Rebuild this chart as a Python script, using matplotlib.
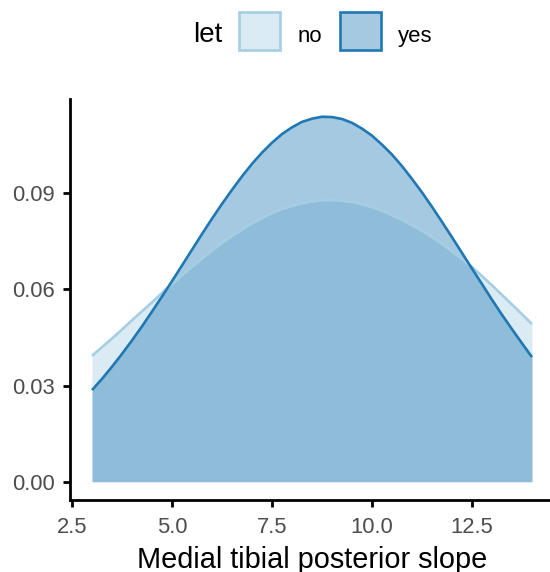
import matplotlib

matplotlib.use("Agg")
import matplotlib.pyplot as plt
from matplotlib.patches import Rectangle

# values (density of medial tibial posterior slope)
slope = [3.00, 3.25, 3.50, 3.75, 4.00, 4.25, 4.50, 4.75, 5.00, 5.25, 5.50, 5.75,
         6.00, 6.25, 6.50, 6.75, 7.00, 7.25, 7.50, 7.75, 8.00, 8.25, 8.50, 8.75,
         9.00, 9.25, 9.50, 9.75, 10.00, 10.25, 10.50, 10.75, 11.00, 11.25, 11.50,
         11.75, 12.00, 12.25, 12.50, 12.75, 13.00, 13.25, 13.50, 13.75, 14.00]
density_no = [0.0393, 0.0420, 0.0447, 0.0475, 0.0504, 0.0532, 0.0560, 0.0589,
              0.0617, 0.0644, 0.0671, 0.0697, 0.0721, 0.0745, 0.0767, 0.0787,
              0.0806, 0.0823, 0.0838, 0.0851, 0.0861, 0.0869, 0.0875, 0.0878,
              0.0879, 0.0877, 0.0873, 0.0866, 0.0857, 0.0846, 0.0832, 0.0817,
              0.0801, 0.0783, 0.0763, 0.0742, 0.0719, 0.0695, 0.0670, 0.0642,
              0.0613, 0.0583, 0.0553, 0.0523, 0.0492]
density_yes = [0.0286, 0.0321, 0.0359, 0.0399, 0.0441, 0.0485, 0.0531, 0.0578,
               0.0626, 0.0675, 0.0724, 0.0773, 0.0821, 0.0867, 0.0911, 0.0953,
               0.0992, 0.1027, 0.1058, 0.1085, 0.1106, 0.1123, 0.1133, 0.1139,
               0.1138, 0.1132, 0.1120, 0.1102, 0.1080, 0.1052, 0.1021, 0.0985,
               0.0945, 0.0903, 0.0858, 0.0811, 0.0763, 0.0714, 0.0665, 0.0617,
               0.0568, 0.0521, 0.0476, 0.0432, 0.0389]
groups = ["no", "yes"]
colors = {"no": "#A6CEE3", "yes": "#1F78B4"}
x_ticks = [2.5, 5.0, 7.5, 10.0, 12.5]
y_ticks = [0.00, 0.03, 0.06, 0.09]

plt.rcParams["font.family"] = ["Liberation Sans", "DejaVu Sans"]

W, H = 550, 572
fig = plt.figure(figsize=(W / 100, H / 100), dpi=100)
ax = fig.add_axes([70 / W, 72 / H, 484 / W, 401.5 / H])

series = {"no": density_no, "yes": density_yes}
for g in groups:
    ax.fill_between(slope, 0, series[g], color=colors[g], alpha=0.4, linewidth=0)
    ax.plot(slope, series[g], color=colors[g], linewidth=1.9,
            solid_capstyle="butt", solid_joinstyle="round")

ymax = max(max(density_no), max(density_yes))
span = slope[-1] - slope[0]
ax.set_xlim(slope[0] - 0.05 * span, slope[-1] + 0.05 * span)
ax.set_ylim(-0.05 * ymax, 1.05 * ymax)

ax.set_xticks(x_ticks)
ax.set_xticklabels([f"{t:.1f}" for t in x_ticks])
ax.set_yticks(y_ticks)
ax.set_yticklabels([f"{t:.2f}" for t in y_ticks])

for side in ["top", "right"]:
    ax.spines[side].set_visible(False)
for side in ["left", "bottom"]:
    ax.spines[side].set_linewidth(2.0)
    ax.spines[side].set_color("black")
ax.tick_params(axis="both", length=5, width=2.0, color="black",
               labelsize=15.8, labelcolor="#4D4D4D")
ax.tick_params(axis="y", pad=5.8)
ax.tick_params(axis="x", pad=7)

fig.text(312 / W, (H - 567.5) / H, "Medial tibial posterior slope",
         ha="center", va="baseline", fontsize=20.8, color="black")

# legend on top
base = (H - 41.7) / H
fig.text(192.7 / W, base, "let", ha="left", va="baseline", fontsize=20, color="black")
keys = {"no": (238.6, 298), "yes": (339.6, 398)}
for g in groups:
    kx, tx = keys[g]
    fig.patches.append(Rectangle((kx / W, (H - 50.4) / H), 41 / W, 38.4 / H,
                                 transform=fig.transFigure, facecolor=colors[g],
                                 alpha=0.4, linewidth=0))
    fig.patches.append(Rectangle((kx / W, (H - 50.4) / H), 41 / W, 38.4 / H,
                                 transform=fig.transFigure, edgecolor=colors[g],
                                 linewidth=1.9, fill=False))
    fig.text(tx / W, base, g, ha="left", va="baseline", fontsize=15.9, color="black")

fig.savefig("out.png", dpi=100)
